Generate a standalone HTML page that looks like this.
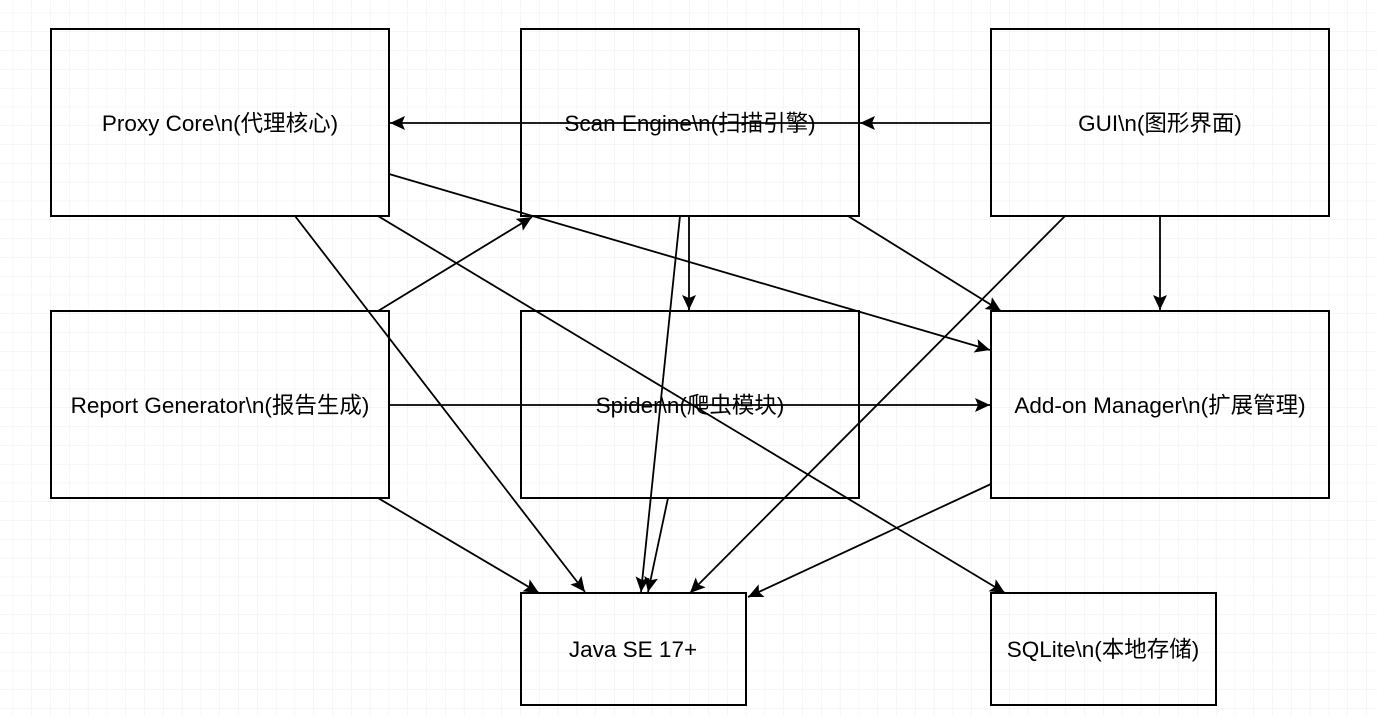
<!DOCTYPE html>
<html><head><meta charset="utf-8"><style>
html,body{margin:0;padding:0;background:#fff;}
svg{display:block;}
text{font-family:"Liberation Sans","Noto Sans CJK SC",sans-serif;font-size:22.5px;fill:#000;}
</style></head><body>
<svg width="1377" height="716" viewBox="0 0 1377 716" xmlns="http://www.w3.org/2000/svg">
<defs>
<pattern id="g" x="12.7" y="12.7" width="18.8" height="18.8" patternUnits="userSpaceOnUse">
<path d="M0 0H18.8M0 0V18.8" stroke="#ececec" stroke-width="1" fill="none"/>
</pattern>
<marker id="a" markerWidth="16" markerHeight="14" refX="15" refY="7" orient="auto" markerUnits="userSpaceOnUse">
<path d="M0 0L15 7L0 14L3 7Z" fill="#000"/>
</marker>
</defs>
<rect width="1377" height="716" fill="url(#g)"/>
<g fill="none" stroke="#000" stroke-width="2">
<rect x="51" y="29" width="338" height="187"/>
<rect x="521" y="29" width="338" height="187"/>
<rect x="991" y="29" width="338" height="187"/>
<rect x="51" y="311" width="338" height="187"/>
<rect x="521" y="311" width="338" height="187"/>
<rect x="991" y="311" width="338" height="187"/>
<rect x="521" y="593" width="225" height="112"/>
<rect x="991" y="593" width="225" height="112"/>
</g>
<g stroke="#000" stroke-width="1.8" fill="none" marker-end="url(#a)">
<line x1="991" y1="123" x2="860" y2="123"/>
<line x1="859" y1="123" x2="390" y2="123"/>
<line x1="389" y1="174" x2="990" y2="350"/>
<line x1="295" y1="216" x2="585" y2="592"/>
<line x1="378" y1="216" x2="1005" y2="593"/>
<line x1="378" y1="311" x2="532" y2="217"/>
<line x1="389" y1="405" x2="990" y2="405"/>
<line x1="378" y1="498" x2="539" y2="593"/>
<line x1="689" y1="216" x2="689" y2="310"/>
<line x1="680" y1="216" x2="641" y2="592"/>
<line x1="848" y1="216" x2="1001" y2="311"/>
<line x1="1065" y1="216" x2="690" y2="593"/>
<line x1="1160" y1="216" x2="1160" y2="310"/>
<line x1="668" y1="498" x2="648" y2="592"/>
<line x1="991" y1="484" x2="748" y2="597"/>
</g>
<g text-anchor="middle">
<text x="220" y="131">Proxy Core\n(代理核心)</text>
<text x="690" y="131">Scan Engine\n(扫描引擎)</text>
<text x="1160" y="131">GUI\n(图形界面)</text>
<text x="220" y="413">Report Generator\n(报告生成)</text>
<text x="690" y="413">Spider\n(爬虫模块)</text>
<text x="1160" y="413">Add-on Manager\n(扩展管理)</text>
<text x="633" y="657">Java SE 17+</text>
<text x="1103" y="657">SQLite\n(本地存储)</text>
</g>
</svg>
</body></html>
